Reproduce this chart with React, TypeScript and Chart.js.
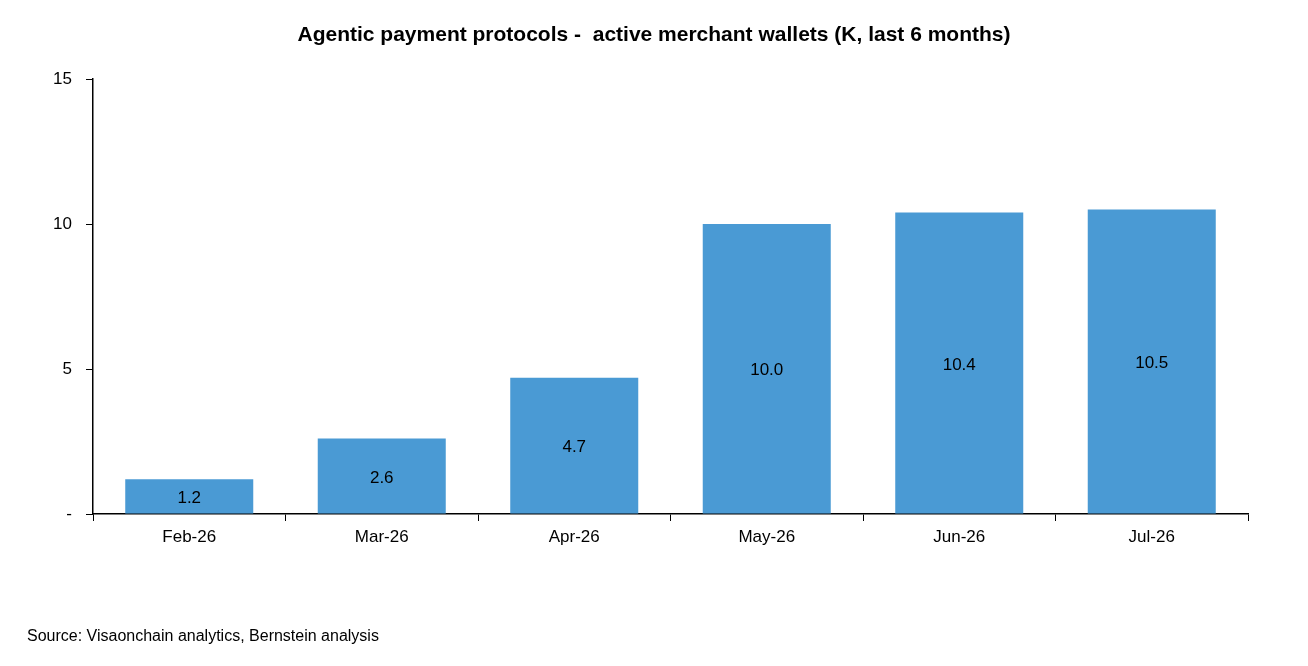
import React, { useEffect, useRef } from "react";
import { Chart, registerables } from "chart.js";
Chart.register(...registerables);

const categories = ["Feb-26", "Mar-26", "Apr-26", "May-26", "Jun-26", "Jul-26"];
const values = [1.2, 2.6, 4.7, 10.0, 10.4, 10.5];
const yTicks = [0, 5, 10, 15];

const labelPlugin = {
  id: "barLabels",
  afterDatasetsDraw(chart: any) {
    const ctx = chart.ctx;
    const meta = chart.getDatasetMeta(0);
    ctx.save();
    ctx.fillStyle = "#000";
    ctx.font = "17px 'Liberation Sans', Arial, sans-serif";
    ctx.textAlign = "center";
    ctx.textBaseline = "middle";
    meta.data.forEach((bar: any, i: number) => {
      const y = (bar.y + bar.base) / 2;
      ctx.fillText(values[i].toFixed(1), bar.x, y + 2);
    });
    ctx.restore();
  },
};

export default function App() {
  const ref = useRef<HTMLCanvasElement>(null);
  useEffect(() => {
    const chart = new Chart(ref.current!, {
      type: "bar",
      data: {
        labels: categories,
        datasets: [{ data: values, backgroundColor: "#4a9ad4", categoryPercentage: 0.665, barPercentage: 1 }],
      },
      options: {
        animation: false,
        responsive: false,
        layout: { padding: { left: 0, right: 52, top: 71, bottom: 0 } },
        plugins: { legend: { display: false }, tooltip: { enabled: false } },
        scales: {
          x: {
            grid: { offset: true, drawOnChartArea: false, drawTicks: true, tickLength: 7, color: "#000" },
            border: { color: "#000", width: 1.5 },
            ticks: { color: "#000", font: { size: 17, family: "'Liberation Sans', Arial" }, padding: 6 },
            afterFit: (s: any) => { s.height = 144; },
          },
          y: {
            min: 0, max: 15,
            afterBuildTicks: (s: any) => { s.ticks = yTicks.map((v) => ({ value: v })); },
            grid: { drawOnChartArea: false, drawTicks: true, tickLength: 7, color: "#000" },
            border: { color: "#000", width: 1.5 },
            ticks: {
              color: "#000", font: { size: 17, family: "'Liberation Sans', Arial" }, padding: 14,
              callback: (v: any) => (v === 0 ? "-" : String(v)),
            },
            afterFit: (s: any) => { s.width = 85; },
          },
        },
      },
      plugins: [labelPlugin],
    });
    return () => chart.destroy();
  }, []);
  return (
    <div style={{ position: "relative", width: 1292, height: 650, fontFamily: "'Liberation Sans', Arial, sans-serif" }}>
      <canvas ref={ref} width={1292} height={650} />
      <div style={{ position: "absolute", top: 14, left: 0, width: 1292, textAlign: "center", fontWeight: "bold", fontSize: 21 }}>
        Agentic payment protocols -&nbsp; active merchant wallets (K, last 6 months)
      </div>
      <div style={{ position: "absolute", top: 619, left: 19, fontSize: 16 }}>
        Source: Visaonchain analytics, Bernstein analysis
      </div>
    </div>
  );
}
